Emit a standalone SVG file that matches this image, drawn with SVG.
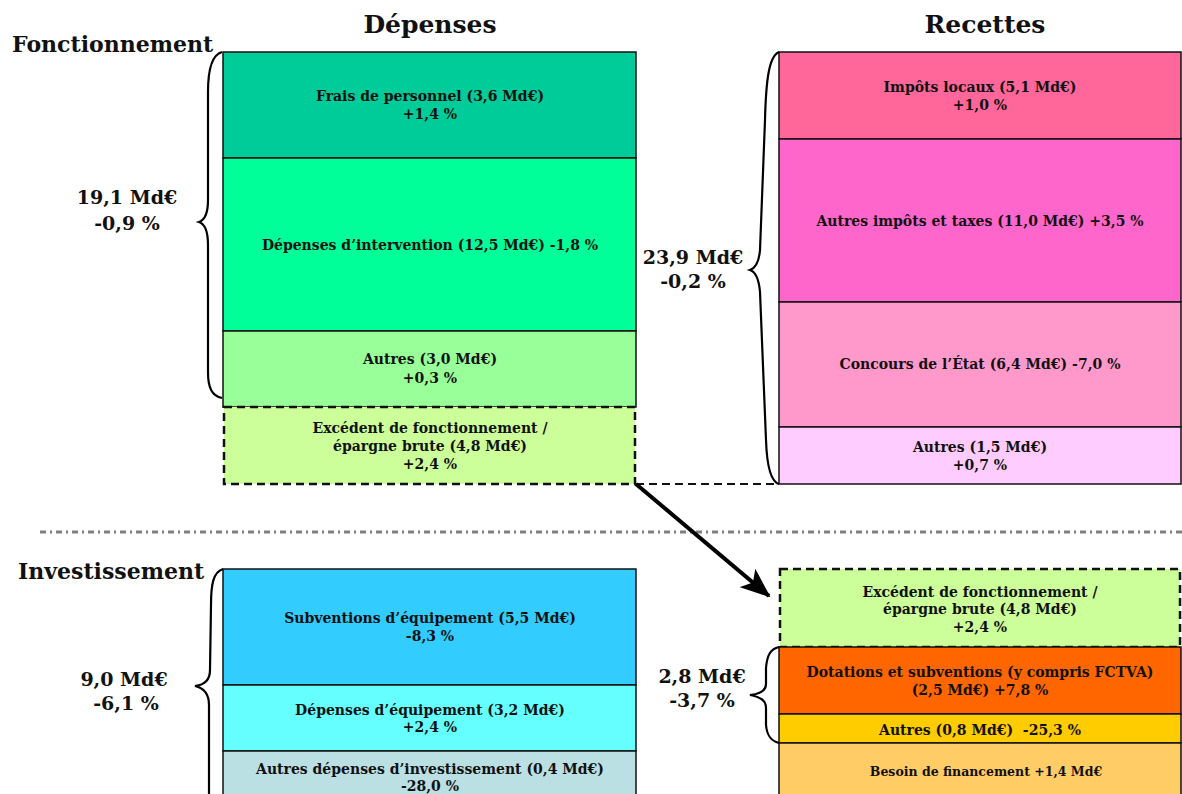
<svg xmlns="http://www.w3.org/2000/svg" width="1182" height="794" viewBox="0 0 1182 794">
<style>
text{font-family:"DejaVu Serif","Liberation Serif",serif;font-weight:bold;fill:#111;text-anchor:middle}
.b{font-size:14px}
.s{font-size:12.5px}
.big{font-size:19px}
.h{font-size:25px}
.sec{font-size:22px;text-anchor:start}
.box{stroke:#111;stroke-width:1.5}
.dash{stroke:#111;stroke-width:2.5;stroke-dasharray:8,5}
.brace{fill:none;stroke:#000;stroke-width:2.2}
</style>
<defs>
<marker id="ah" viewBox="0 0 30 24" refX="28" refY="12" markerWidth="30" markerHeight="24" markerUnits="userSpaceOnUse" orient="auto">
<path d="M0,0 L30,12 L0,24 L7,12 Z" fill="#000"/>
</marker>
</defs>
<rect width="1182" height="794" fill="#fff"/>
<text class="h" x="430" y="33">Dépenses</text>
<text class="h" x="985" y="33">Recettes</text>
<text class="sec" x="12" y="52">Fonctionnement</text>
<text class="sec" x="18" y="579">Investissement</text>

<g id="frais"><rect class="box" x="223" y="52" width="413" height="106" fill="#00CC99"/><text class="b" x="430" y="101">Frais de personnel (3,6 Md€)</text><text class="b" x="430" y="119">+1,4 %</text></g>
<g id="intervention"><rect class="box" x="223" y="158" width="413" height="173" fill="#00FF99"/><text class="b" x="430" y="250">Dépenses d’intervention (12,5 Md€) -1,8 %</text></g>
<g id="autres-dep-fonc"><rect class="box" x="223" y="331" width="413" height="76" fill="#99FF99"/><text class="b" x="430" y="364">Autres (3,0 Md€)</text><text class="b" x="430" y="383">+0,3 %</text></g>
<g id="excedent-dep"><rect class="dash" x="224" y="407" width="411" height="77" fill="#CCFF99"/><text class="b" x="430" y="433">Excédent de fonctionnement /</text><text class="b" x="430" y="451">épargne brute (4,8 Md€)</text><text class="b" x="430" y="469">+2,4 %</text></g>

<g id="impots"><rect class="box" x="779" y="52" width="402" height="87" fill="#FF6699"/><text class="b" x="980" y="92">Impôts locaux (5,1 Md€)</text><text class="b" x="980" y="110">+1,0 %</text></g>
<g id="autres-impots"><rect class="box" x="779" y="139" width="402" height="163" fill="#FF66CC"/><text class="b" x="980" y="226">Autres impôts et taxes (11,0 Md€) +3,5 %</text></g>
<g id="concours"><rect class="box" x="779" y="302" width="402" height="125" fill="#FF99CC"/><text class="b" x="980" y="369">Concours de l’État (6,4 Md€) -7,0 %</text></g>
<g id="autres-rec-fonc"><rect class="box" x="779" y="427" width="402" height="57" fill="#FFCCFF"/><text class="b" x="980" y="452">Autres (1,5 Md€)</text><text class="b" x="980" y="470">+0,7 %</text></g>

<g id="subventions"><rect class="box" x="223" y="569" width="413" height="116" fill="#33CCFF"/><text class="b" x="430" y="623">Subventions d’équipement (5,5 Md€)</text><text class="b" x="430" y="641">-8,3 %</text></g>
<g id="equipement"><rect class="box" x="223" y="685" width="413" height="66" fill="#66FFFF"/><text class="b" x="430" y="715">Dépenses d’équipement (3,2 Md€)</text><text class="b" x="430" y="732">+2,4 %</text></g>
<g id="autres-dep-inv"><rect class="box" x="223" y="751" width="413" height="60" fill="#BBE0E3"/><text class="b" x="430" y="774">Autres dépenses d’investissement (0,4 Md€)</text><text class="b" x="430" y="791">-28,0 %</text></g>

<g id="excedent-rec"><rect class="dash" x="780" y="569" width="400" height="78" fill="#CCFF99"/><text class="b" x="980" y="597">Excédent de fonctionnement /</text><text class="b" x="980" y="614">épargne brute (4,8 Md€)</text><text class="b" x="980" y="632">+2,4 %</text></g>
<g id="dotations"><rect class="box" x="779" y="647" width="402" height="67" fill="#FF6600"/><text class="b" x="980" y="677">Dotations et subventions (y compris FCTVA)</text><text class="b" x="980" y="695">(2,5 Md€) +7,8 %</text></g>
<g id="autres-rec-inv"><rect class="box" x="779" y="714" width="402" height="29" fill="#FFCC00"/><text class="b" x="980" y="735" style="white-space:pre">Autres (0,8 Md€)  -25,3 %</text></g>
<g id="besoin"><rect class="box" x="779" y="743" width="402" height="68" fill="#FFCC66"/><text class="s" x="986" y="776">Besoin de financement +1,4 Md€</text></g>

<g id="totaux">
<path class="brace" d="M222,52 C211,55 208,72 208,92 L208,200 C208,213 205,220 199,222 C205,224 208,232 208,245 L208,372 C208,388 212,396 222,398"/>
<text class="big" x="127" y="204">19,1 Md€</text><text class="big" x="127" y="230">-0,9 %</text>
<path class="brace" d="M779,52 C769,56 766,80 765,120 L760,250 C759,262 756,268 750,270 C756,272 759,280 760,292 L766,440 C767,470 772,482 779,484"/>
<text class="big" x="693" y="264">23,9 Md€</text><text class="big" x="693" y="288">-0,2 %</text>
<path class="brace" d="M223,569 C213,572 211,585 211,605 L210,670 C210,680 204,685 195,686 C204,688 209,694 209,705 L209,800"/>
<text class="big" x="124" y="686">9,0 Md€</text><text class="big" x="126" y="710">-6,1 %</text>
<path class="brace" d="M779,647 C770,649 767,656 766,668 L766,684 C766,691 760,694 750,695 C760,697 766,700 766,708 L766,725 C767,736 771,741 779,743"/>
<text class="big" x="702" y="683">2,8 Md€</text><text class="big" x="702" y="707">-3,7 %</text>
</g>

<g id="connectors">
<line x1="636" y1="484" x2="779" y2="484" class="dash" style="stroke-width:2"/>
<line x1="40" y1="532" x2="1182" y2="532" stroke="#808080" stroke-width="3" stroke-dasharray="6,4,2,4"/>
<line x1="636" y1="484" x2="769" y2="596" stroke="#000" stroke-width="4" marker-end="url(#ah)"/>
</g>
</svg>
